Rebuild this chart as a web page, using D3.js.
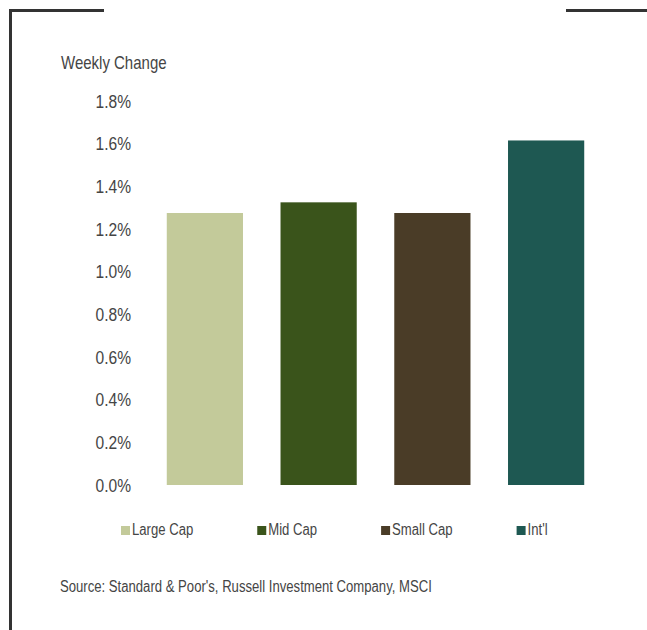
<!DOCTYPE html>
<html>
<head>
<meta charset="utf-8">
<script src="https://cdn.jsdelivr.net/npm/d3@7"></script>
<style>
  body { margin: 0; background: #fff; }
  text { font-family: "Liberation Sans Narrow", "Arial Narrow", "Liberation Sans", sans-serif; fill: #454545; }
</style>
</head>
<body>
<svg id="chart" width="647" height="630"></svg>
<script>
// Weekly change by market segment (%)
const categories = ["Large Cap", "Mid Cap", "Small Cap", "Int'l"];
const values = [1.275, 1.325, 1.275, 1.615];
const colors = ["#C3CA9A", "#3A541B", "#4A3C27", "#1E5852"];
const yTicks = [0, 0.2, 0.4, 0.6, 0.8, 1.0, 1.2, 1.4, 1.6, 1.8];

const NARROW = 0.82; // no narrow font installed, squeeze Liberation Sans

const svg = d3.select("#chart");

// places a horizontally squeezed text at x,y
function narrowText(parent, x, y, size, str) {
  return parent.append("text")
    .attr("transform", `translate(${x},${y}) scale(${NARROW},1)`)
    .attr("font-size", size)
    .text(str);
}

// frame lines
svg.append("path")
  .attr("d", "M10.5,630 V10.5 H104")
  .attr("fill", "none")
  .attr("stroke", "#333")
  .attr("stroke-width", 3);
svg.append("line")
  .attr("x1", 566).attr("x2", 647)
  .attr("y1", 10.5).attr("y2", 10.5)
  .attr("stroke", "#333")
  .attr("stroke-width", 3);

const x = d3.scaleBand()
  .domain(categories)
  .range([148, 603])
  .paddingInner(0.33)
  .paddingOuter(0.165);

const y = d3.scaleLinear()
  .domain([0, 1.8])
  .range([485, 101]);

// y axis labels, no line
const yAxis = svg.append("g")
  .attr("transform", "translate(131,0)")
  .call(d3.axisLeft(y).tickValues(yTicks).tickSize(0).tickPadding(0)
    .tickFormat(d => d3.format(".1f")(d) + "%"));
yAxis.select(".domain").remove();
yAxis.selectAll("text")
  .attr("font-size", 19)
  .attr("font-family", null)
  .attr("fill", null)
  .attr("transform", `scale(${NARROW},1)`);
yAxis.attr("font-family", null).attr("font-size", null);

narrowText(svg, 61, 69, 18.3, "Weekly Change");

// bars
svg.append("g")
  .selectAll("rect")
  .data(categories)
  .join("rect")
  .attr("x", d => x(d))
  .attr("width", x.bandwidth())
  .attr("y", (d, i) => y(values[i]))
  .attr("height", (d, i) => y(0) - y(values[i]))
  .attr("fill", (d, i) => colors[i]);

// legend, laid out by text widths
const legend = svg.append("g").attr("transform", "translate(121,535)");
let lx = 0;
categories.forEach((c, i) => {
  const g = legend.append("g").attr("transform", `translate(${lx},0)`);
  g.append("rect")
    .attr("x", 0).attr("y", -9)
    .attr("width", 9).attr("height", 9)
    .attr("fill", colors[i]);
  const t = narrowText(g, 11, 0, 16, c);
  lx += 11 + t.node().getComputedTextLength() * NARROW + 64;
});

narrowText(svg, 60, 592, 16, "Source: Standard & Poor's, Russell Investment Company, MSCI");
</script>
</body>
</html>
